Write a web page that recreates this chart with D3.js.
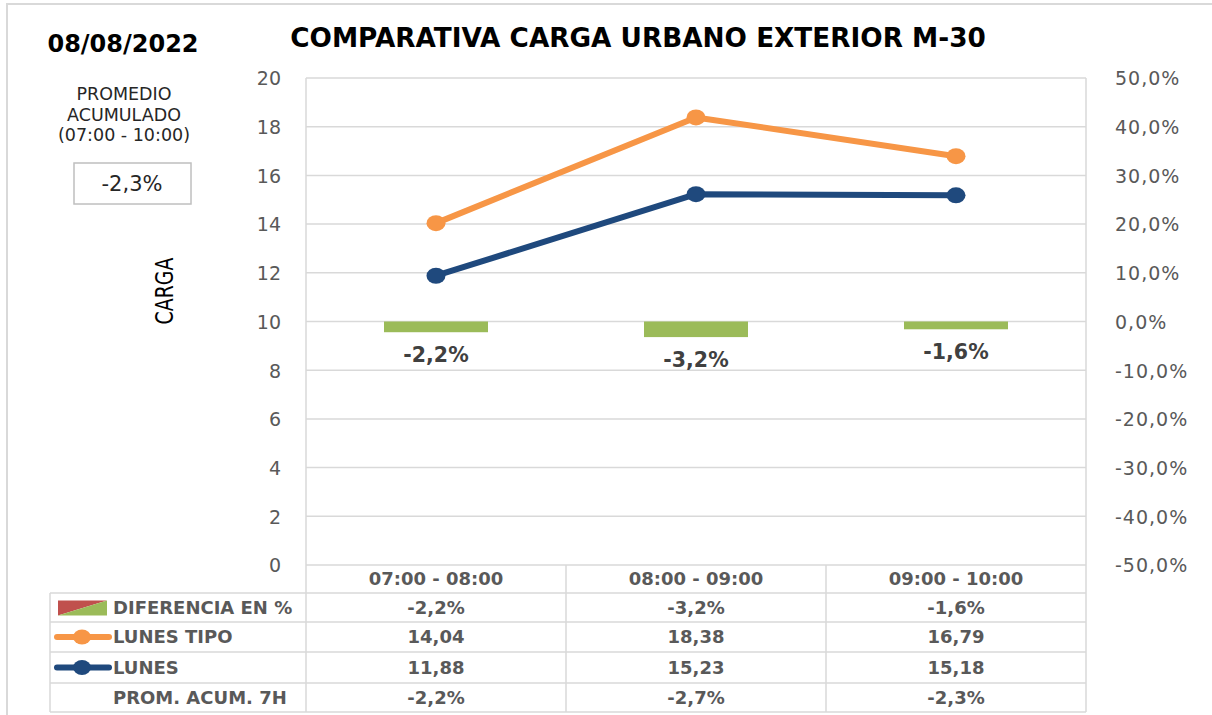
<!DOCTYPE html>
<html>
<head>
<meta charset="utf-8">
<script src="https://cdn.jsdelivr.net/npm/d3@7"></script>
<style>
  body { margin: 0; background: #fff; }
  svg text { font-family: "DejaVu Sans", sans-serif; }
</style>
</head>
<body>
<svg id="chart" width="1212" height="715"></svg>
<script>
// data //
var categories = ["07:00 - 08:00", "08:00 - 09:00", "09:00 - 10:00"];
var diferencia = [-2.2, -3.2, -1.6];
var lunesTipo = [14.04, 18.38, 16.79];
var lunes = [11.88, 15.23, 15.18];
var promAcum = [-2.2, -2.7, -2.3];
var leftTicks = [0, 2, 4, 6, 8, 10, 12, 14, 16, 18, 20];
var rightTicks = [-0.5, -0.4, -0.3, -0.2, -0.1, 0, 0.1, 0.2, 0.3, 0.4, 0.5];
var promedioTotal = -2.3;
var fecha = "08/08/2022";
var titulo = "COMPARATIVA CARGA URBANO EXTERIOR M-30";

var orange = "#F79646";
var blue = "#1F497D";
var green = "#9BBB59";
var red = "#C0504D";
var gridColor = "#D9D9D9";
var textGrey = "#595959";

// coma decimal
function fmt(v, d) { return v.toFixed(d).replace(".", ","); }
function pct(v) { return fmt(v, 1) + "%"; }

var plot = {left: 306, right: 1086, top: 78, bottom: 565};

var svg = d3.select("#chart");

// marco exterior
svg.append("rect")
  .attr("x", 7).attr("y", 4)
  .attr("width", 1230).attr("height", 740)
  .attr("fill", "none")
  .attr("stroke", gridColor)
  .attr("stroke-width", 2);

var x = d3.scaleBand()
  .domain(categories)
  .range([plot.left, plot.right])
  .padding(0);

var y = d3.scaleLinear()
  .domain([0, 20])
  .range([plot.bottom, plot.top]);

var y2 = d3.scaleLinear()
  .domain([-0.5, 0.5])
  .range([plot.bottom, plot.top]);

// gridlines
svg.append("g")
  .selectAll("line")
  .data(leftTicks)
  .enter().append("line")
  .attr("x1", plot.left).attr("x2", plot.right)
  .attr("y1", d => y(d)).attr("y2", d => y(d))
  .attr("stroke", gridColor)
  .attr("stroke-width", 1.5);

// bordes verticales del area
[plot.left, plot.right].forEach(function(px) {
  svg.append("line")
    .attr("x1", px).attr("x2", px)
    .attr("y1", plot.top).attr("y2", plot.bottom)
    .attr("stroke", gridColor)
    .attr("stroke-width", 1.5);
});

// ejes
var yAxis = d3.axisLeft(y).tickValues(leftTicks).tickSize(0).tickPadding(0);
var gy = svg.append("g")
  .attr("transform", "translate(281,0)")
  .call(yAxis);
gy.select(".domain").remove();
gy.selectAll("text")
  .style("font-family", "DejaVu Sans")
  .style("font-size", "19px")
  .attr("fill", textGrey)
  .attr("dy", "0.36em");

var y2Axis = d3.axisRight(y2).tickValues(rightTicks).tickSize(0).tickPadding(0)
  .tickFormat(d => pct(d * 100));
var gy2 = svg.append("g")
  .attr("transform", "translate(1115,0)")
  .call(y2Axis);
gy2.select(".domain").remove();
gy2.selectAll("text")
  .style("font-family", "DejaVu Sans")
  .style("font-size", "19px")
  .style("letter-spacing", "1px")
  .attr("fill", textGrey)
  .attr("dy", "0.36em");

// barras diferencia
var barW = x.bandwidth() * 0.4;
svg.append("g")
  .selectAll("rect")
  .data(diferencia)
  .enter().append("rect")
  .attr("x", (d, i) => x(categories[i]) + (x.bandwidth() - barW) / 2)
  .attr("y", d => y2(Math.max(0, d / 100)))
  .attr("width", barW)
  .attr("height", d => Math.abs(y2(d / 100) - y2(0)))
  .attr("fill", d => d < 0 ? green : red);

svg.append("g")
  .selectAll("text")
  .data(diferencia)
  .enter().append("text")
  .attr("x", (d, i) => x(categories[i]) + x.bandwidth() / 2)
  .attr("y", d => y2(d / 100) + 30)
  .attr("text-anchor", "middle")
  .style("font-size", "20.5px")
  .style("font-weight", "bold")
  .attr("fill", "#404040")
  .text(d => pct(d));

// lineas
var line = d3.line()
  .x((d, i) => x(categories[i]) + x.bandwidth() / 2)
  .y(d => y(d));

function drawSeries(values, color) {
  svg.append("path")
    .datum(values)
    .attr("d", line)
    .attr("fill", "none")
    .attr("stroke", color)
    .attr("stroke-width", 6)
    .attr("stroke-linejoin", "round");
  svg.append("g")
    .selectAll("ellipse")
    .data(values)
    .enter().append("ellipse")
    .attr("cx", (d, i) => x(categories[i]) + x.bandwidth() / 2)
    .attr("cy", d => y(d))
    .attr("rx", 9.5)
    .attr("ry", 8)
    .attr("fill", color);
}
drawSeries(lunesTipo, orange);
drawSeries(lunes, blue);

// titulo y textos
svg.append("text")
  .attr("x", 638).attr("y", 47)
  .attr("text-anchor", "middle")
  .style("font-size", "26.3px")
  .style("font-weight", "bold")
  .attr("fill", "#000")
  .text(titulo);

svg.append("text")
  .attr("x", 123).attr("y", 52)
  .attr("text-anchor", "middle")
  .style("font-size", "24px")
  .style("font-weight", "bold")
  .attr("fill", "#000")
  .text(fecha);

["PROMEDIO", "ACUMULADO", "(07:00 - 10:00)"].forEach(function(t, i) {
  svg.append("text")
    .attr("x", 124).attr("y", 100 + i * 20.5)
    .attr("text-anchor", "middle")
    .style("font-size", "17.5px")
    .attr("fill", "#262626")
    .text(t);
});

svg.append("rect")
  .attr("x", 74).attr("y", 163)
  .attr("width", 117).attr("height", 41)
  .attr("fill", "#fff")
  .attr("stroke", "#BFBFBF")
  .attr("stroke-width", 1.5);
svg.append("text")
  .attr("x", 132).attr("y", 191)
  .attr("text-anchor", "middle")
  .style("font-size", "21px")
  .attr("fill", "#262626")
  .text(pct(promedioTotal));

svg.append("text")
  .attr("transform", "translate(173,291) rotate(-90) scale(1,1.15)")
  .attr("text-anchor", "middle")
  .style("font-family", "Liberation Sans Narrow, DejaVu Sans Condensed, sans-serif")
  .style("font-size", "21px")
  .attr("fill", "#000")
  .text("CARGA");

// tabla de datos
var rowEdges = [565, 593, 622, 652, 683, 712];
var tableLeft = 50;
var tg = svg.append("g");

rowEdges.slice(1).forEach(function(ry) {
  tg.append("line")
    .attr("x1", tableLeft).attr("x2", plot.right)
    .attr("y1", ry).attr("y2", ry)
    .attr("stroke", gridColor).attr("stroke-width", 1.5);
});
tg.append("line")
  .attr("x1", tableLeft).attr("x2", tableLeft)
  .attr("y1", rowEdges[1]).attr("y2", rowEdges[5])
  .attr("stroke", gridColor).attr("stroke-width", 1.5);
categories.forEach(function(c, i) {
  tg.append("line")
    .attr("x1", x(c) + x.bandwidth()).attr("x2", x(c) + x.bandwidth())
    .attr("y1", plot.bottom).attr("y2", rowEdges[5])
    .attr("stroke", gridColor).attr("stroke-width", 1.5);
});
tg.append("line")
  .attr("x1", plot.left).attr("x2", plot.left)
  .attr("y1", plot.bottom).attr("y2", rowEdges[5])
  .attr("stroke", gridColor).attr("stroke-width", 1.5);

var rows = [
  {label: "DIFERENCIA EN %", values: diferencia.map(pct)},
  {label: "LUNES TIPO", values: lunesTipo.map(v => fmt(v, 2))},
  {label: "LUNES", values: lunes.map(v => fmt(v, 2))},
  {label: "PROM. ACUM. 7H", values: promAcum.map(pct)}
];

function cellText(tx, ty, t, anchor) {
  tg.append("text")
    .attr("x", tx).attr("y", ty)
    .attr("dy", "0.36em")
    .attr("text-anchor", anchor)
    .style("font-size", "18px")
    .style("font-weight", "bold")
    .attr("fill", textGrey)
    .text(t);
}

categories.forEach(function(c) {
  cellText(x(c) + x.bandwidth() / 2, (rowEdges[0] + rowEdges[1]) / 2, c, "middle");
});

rows.forEach(function(r, ri) {
  var cy = (rowEdges[ri + 1] + rowEdges[ri + 2]) / 2;
  cellText(113, cy, r.label, "start");
  r.values.forEach(function(v, ci) {
    cellText(x(categories[ci]) + x.bandwidth() / 2, cy, v, "middle");
  });
});

// claves de leyenda
var k0 = (rowEdges[1] + rowEdges[2]) / 2;
tg.append("path")
  .attr("d", "M58," + (k0 - 7) + "L107," + (k0 - 7) + "L58," + (k0 + 8) + "Z")
  .attr("fill", red);
tg.append("path")
  .attr("d", "M107," + (k0 - 7) + "L107," + (k0 + 8) + "L58," + (k0 + 8) + "Z")
  .attr("fill", green);

[[orange, 2], [blue, 3]].forEach(function(k) {
  var ky = (rowEdges[k[1]] + rowEdges[k[1] + 1]) / 2;
  tg.append("line")
    .attr("x1", 57).attr("x2", 109)
    .attr("y1", ky).attr("y2", ky)
    .attr("stroke", k[0]).attr("stroke-width", 6)
    .attr("stroke-linecap", "round");
  tg.append("ellipse")
    .attr("cx", 82).attr("cy", ky)
    .attr("rx", 9).attr("ry", 7.5)
    .attr("fill", k[0]);
});
</script>
</body>
</html>
